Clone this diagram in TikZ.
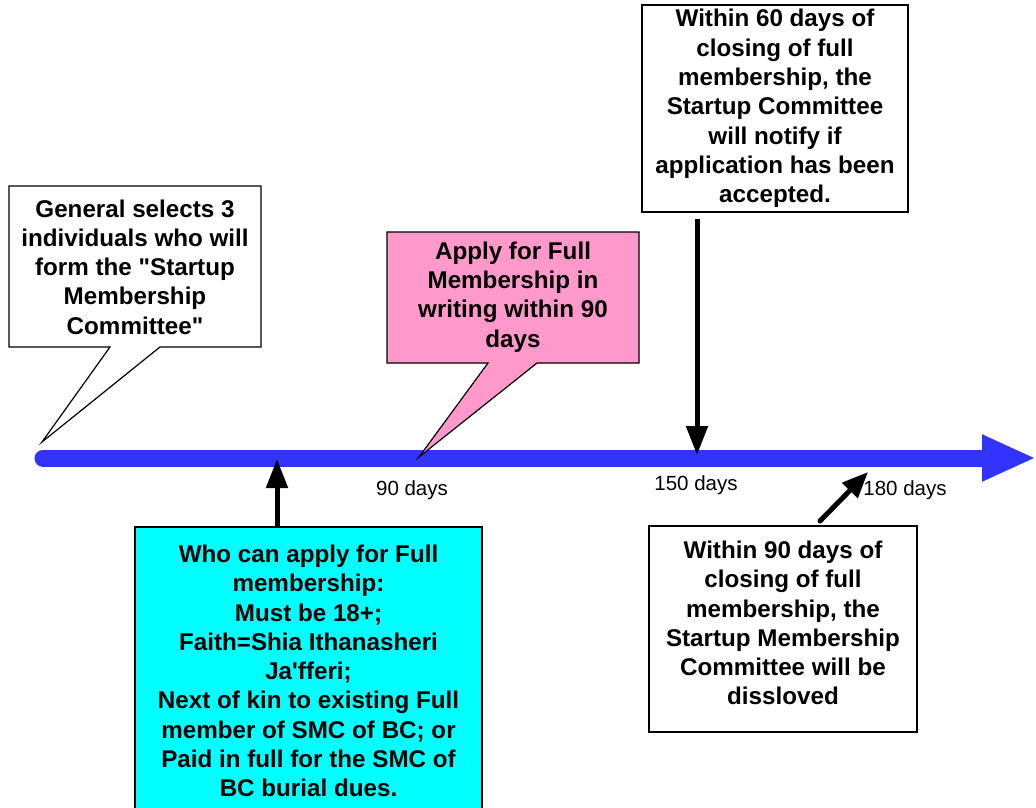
\documentclass[tikz,border=0pt]{standalone}
\usepackage{fontspec}
\setmainfont{Liberation Sans}
\usetikzlibrary{arrows.meta}
\definecolor{tlblue}{RGB}{51,51,255}
\definecolor{pinkfill}{RGB}{255,153,204}
\definecolor{cyanfill}{RGB}{0,255,255}
\begin{document}
\begin{tikzpicture}[x=1pt,y=-1pt,
  boxtext/.style={align=center, font=\fontsize{24.2}{29.3}\selectfont\bfseries, inner sep=0pt},
  boxline/.style={draw=black, line width=1.2pt},
  daylabel/.style={font=\fontsize{20.5}{24}\selectfont, inner sep=0pt},
  blackarrow/.style={line width=5pt, -{Triangle[length=29pt,width=21pt]}},
]
\useasboundingbox (0,0) rectangle (1036,808);

% timeline
\coordinate (tlstart) at (43,458);
\coordinate (tlend) at (1036,458);
\draw[tlblue, line width=17pt, line cap=round, -{Triangle[length=54pt,width=43pt]}] (tlstart) -- (tlend);

% General callout
\coordinate (gtip) at (42,442);
\path[boxline, fill=white] (9,186) -- (261,186) -- (261,347) -- (160,347) -- (gtip) -- (110,347) -- (9,347) -- cycle;
\node[boxtext] (general) at (135,267) {General selects 3\\individuals who will\\form the \textquotedbl Startup\\Membership\\Committee\textquotedbl};

% Apply callout
\coordinate (atip) at (419,457);
\path[boxline, fill=pinkfill] (387,232) -- (639,232) -- (639,363) -- (537,363) -- (atip) -- (488,363) -- (387,363) -- cycle;
\node[boxtext] (apply) at (513,297) {Apply for Full\\Membership in\\writing within 90\\days};

% Notify box
\node[boxtext, boxline, fill=white, minimum width=266pt, minimum height=207pt] (notify) at (775,108.5)
  {Within 60 days of\\closing of full\\membership, the\\Startup Committee\\will notify if\\application has been\\accepted.};
\coordinate (n150) at (697,455);
\draw[blackarrow] ([yshift=-6pt]notify.south -| n150) -- (n150);

% Who box
\node[boxtext, boxline, fill=cyanfill, minimum width=347pt, minimum height=288pt] (who) at (308.5,671)
  {Who can apply for Full\\membership:\\Must be 18+;\\Faith=Shia Ithanasheri\\Ja\textquotesingle fferi;\\Next of kin to existing Full\\member of SMC of BC; or\\Paid in full for the SMC of\\BC burial dues.};
\coordinate (n60) at (277,459);
\draw[blackarrow] (who.north -| n60) -- (n60);

% Dissolve box
\node[boxline, fill=white, minimum width=268pt, minimum height=206pt, inner sep=0pt] (dissolve) at (783,629) {};
\node[boxtext] (dissolvetext) at (783,623)
  {Within 90 days of\\closing of full\\membership, the\\Startup Membership\\Committee will be\\dissloved};
\coordinate (dstart) at (820,521);
\coordinate (d180) at (868,472);
\draw[line width=5pt, line cap=round, -{Triangle[length=26pt,width=21pt]}] (dstart) -- (d180);

% day labels
\node[daylabel] (l90) at (412,490) {90 days};
\node[daylabel] (l150) at (696,485) {150 days};
\node[daylabel] (l180) at (905,490) {180 days};
\end{tikzpicture}
\end{document}
